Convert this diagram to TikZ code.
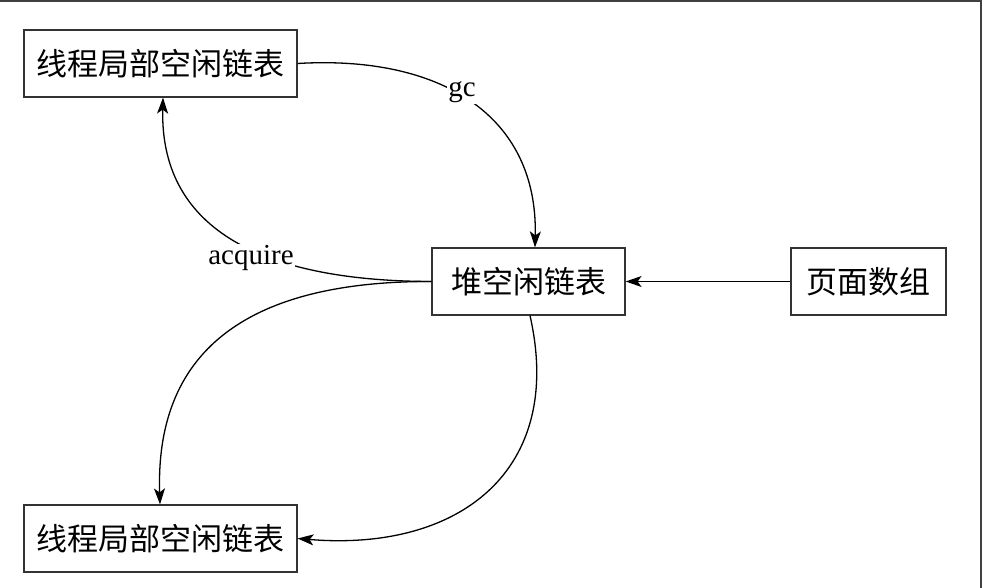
\documentclass[tikz,border=0pt]{standalone}
\usepackage{fontspec}
\setmainfont{Liberation Serif}
\newfontfamily\cjk{Noto Sans CJK SC}
\usetikzlibrary{arrows.meta}

\begin{document}
\begin{tikzpicture}[x=1pt, y=-1pt,
    list/.style={draw=black!80, line width=1.2pt, minimum height=67pt, inner sep=0pt,
                 font=\cjk\fontsize{31}{36}\selectfont},
    link/.style={line width=1.3pt, -{Stealth[length=16pt, width=11pt, inset=4pt]}},
    tag/.style={fill=white, inner sep=1pt, font=\fontsize{29}{34}\selectfont}]
    \useasboundingbox (0,0) rectangle (982,588);
    \draw[line width=2pt, black!75] (0,1) -- (980.5,1) -- (980.5,588);

    \node[list, minimum width=273pt] (localtop) at (160.5,63.5) {线程局部空闲链表};
    \node[list, minimum width=193pt] (heap) at (528.5,281.5) {堆空闲链表};
    \node[list, minimum width=155pt] (pages) at (868.5,281.5) {页面数组};
    \node[list, minimum width=273pt] (localbot) at (160.5,538.5) {线程局部空闲链表};

    \coordinate (heapin) at ([xshift=6.5pt]heap.north);
    \coordinate (heapout) at ([xshift=1.5pt]heap.south);
    \coordinate (topin) at ([xshift=2.5pt]localtop.south);
    \coordinate (botin) at ([xshift=-0.5pt]localbot.north);

    \draw[link] (pages.west) -- (heap.east);
    \draw[link] (localtop.east) .. controls (440,55) and (538,115) .. (heapin);
    \draw[link] (heap.west) .. controls (255,281) and (160,225) .. (topin);
    \draw[link] (heap.west) .. controls (255,281) and (155,345) .. (botin);
    \draw[link] (heapout) .. controls (565,470) and (460,552) .. (localbot.east);

    % labels on the curves
    \node[tag] (gc) at (462,92) {gc};
    \node[tag] (acq) at (251,258) {acquire};
\end{tikzpicture}
\end{document}
